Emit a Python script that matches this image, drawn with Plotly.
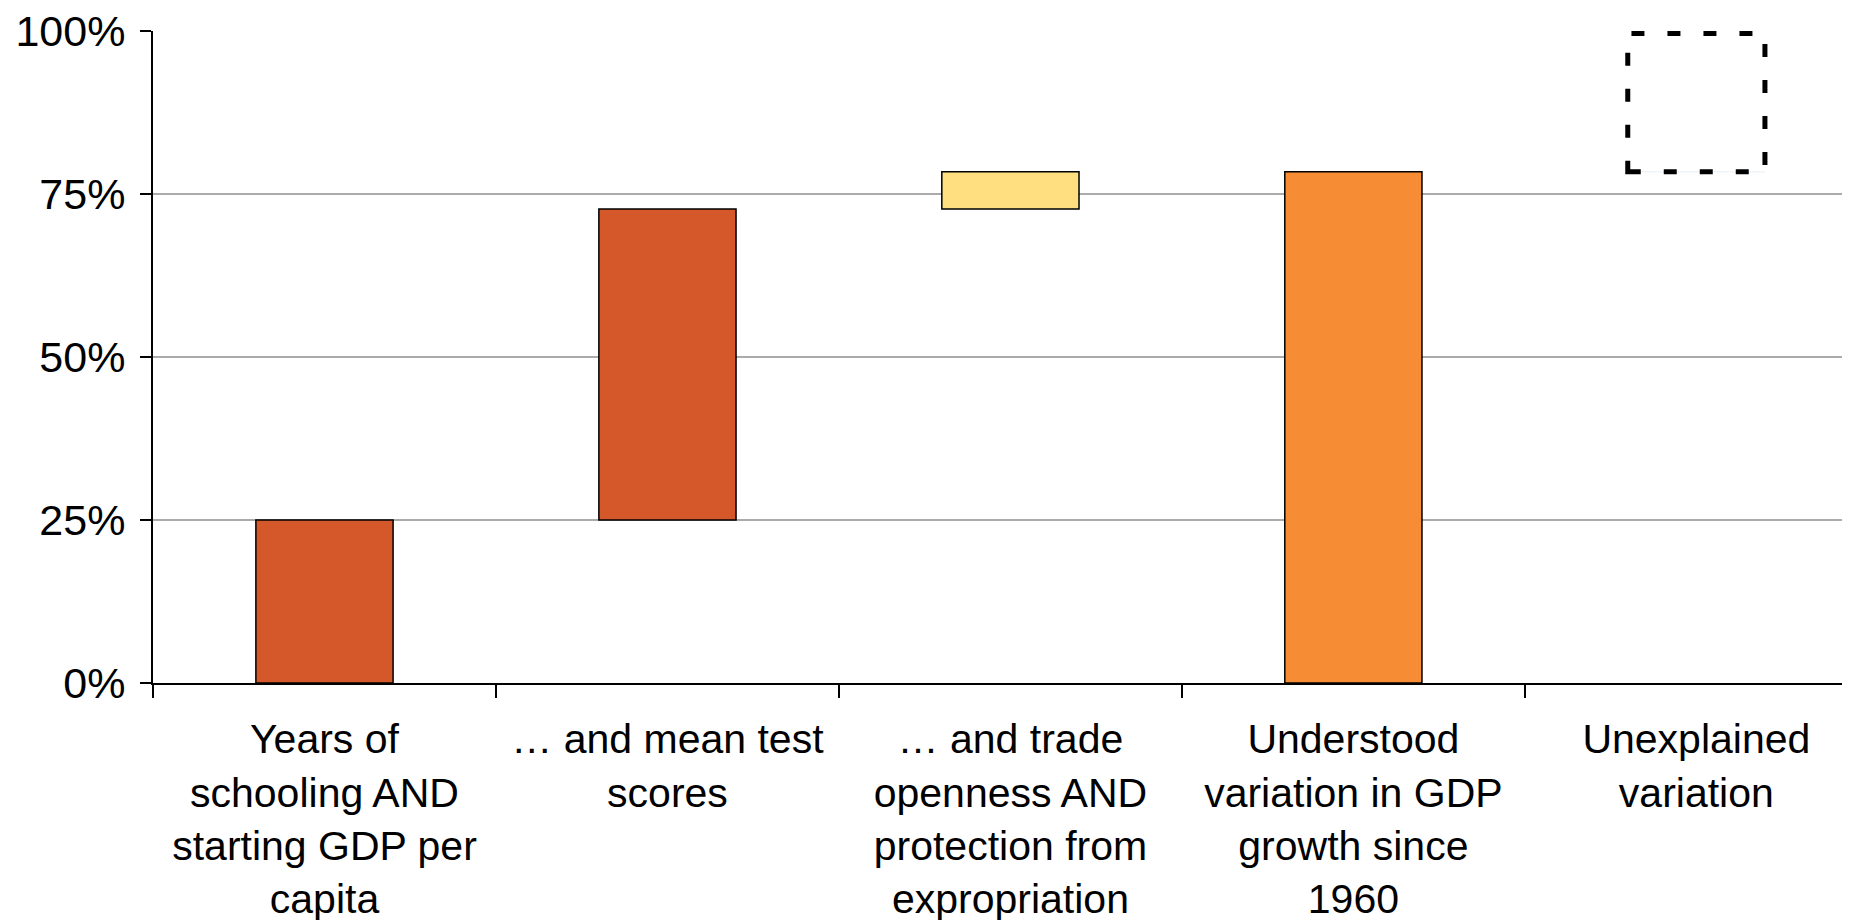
import plotly.graph_objects as go

categories = [
    "Years of<br>schooling AND<br>starting GDP per<br>capita",
    "… and mean test<br>scores",
    "… and trade<br>openness AND<br>protection from<br>expropriation",
    "Understood<br>variation in GDP<br>growth since<br>1960",
    "Unexplained<br>variation",
]
bar_bases = [0, 25, 72.7, 0]
bar_tops = [25, 72.7, 78.4, 78.4]
bar_colors = ["#D4582A", "#D4582A", "#FFDF80", "#F68C33"]
unexplained_base = 78.4
unexplained_top = 100
y_ticks = [0, 25, 50, 75, 100]
y_tick_labels = ["0%", "25%", "50%", "75%", "100%"]

FONT = "Liberation Sans, Arial, sans-serif"
BAR_W = 0.4
DASH_W = 5
PLOT_H = 652
PX_PER_UNIT = PLOT_H / 100.0  # used to keep dashed outline inside the plot

fig = go.Figure()
fig.add_trace(go.Bar(
    x=categories[:4],
    y=[t - b for t, b in zip(bar_tops, bar_bases)],
    base=bar_bases,
    width=BAR_W,
    marker=dict(color=bar_colors, line=dict(color="#000000", width=1.5)),
    showlegend=False,
    hoverinfo="skip",
))
# invisible trace to register 5th category
fig.add_trace(go.Bar(x=[categories[4]], y=[0], base=[unexplained_base], width=BAR_W,
                     marker=dict(color="rgba(0,0,0,0)"), showlegend=False, hoverinfo="skip"))

inset = (DASH_W / 2) / PX_PER_UNIT
fig.add_shape(
    type="rect", xref="x", yref="y",
    x0=4 - BAR_W / 2, x1=4 + BAR_W / 2,
    y0=unexplained_base, y1=unexplained_top - inset,
    line=dict(color="#000000", width=DASH_W, dash="13px,23px"),
    fillcolor="rgba(0,0,0,0)",
)

# page body has an 8px margin, so the figure is sized to end at the window edge
W, H = 1842, 912
fig.update_layout(
    width=W, height=H,
    margin=dict(l=145, r=0, t=23, b=H - 23 - PLOT_H),
    paper_bgcolor="white", plot_bgcolor="white",
    font=dict(family=FONT, size=41, color="#000000"),
    barmode="overlay",
    bargap=0.6,
)
fig.update_xaxes(
    categoryorder="array", categoryarray=categories,
    range=[-0.5, 4.448],
    automargin=False,
    showline=True, linecolor="#000000", linewidth=2,
    ticks="outside", ticklen=13, tickwidth=2, tickcolor="#000000",
    tickson="boundaries",
    showgrid=False, zeroline=False,
    tickfont=dict(family=FONT, size=41, color="#000000"),
    ticklabelstandoff=19,
    ticklabeloverflow="allow",
)
fig.update_yaxes(
    range=[0, 100],
    automargin=False,
    tickvals=y_ticks, ticktext=y_tick_labels,
    showline=True, linecolor="#000000", linewidth=2,
    ticks="outside", ticklen=11, tickwidth=2, tickcolor="#000000",
    showgrid=True, gridcolor="#ababab", gridwidth=2,
    zeroline=False,
    tickfont=dict(family=FONT, size=43, color="#000000"),
    ticklabelstandoff=6,
    ticklabeloverflow="allow",
)

fig.write_html("out.html")
